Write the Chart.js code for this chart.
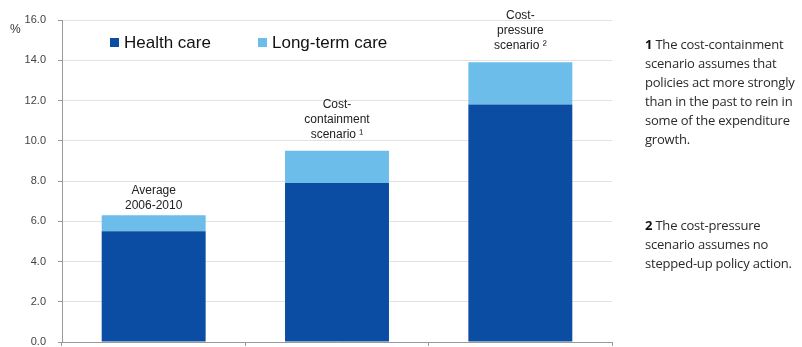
<!DOCTYPE html>
<html><head><meta charset="utf-8">
<script src="https://cdn.jsdelivr.net/npm/chart.js@4/dist/chart.umd.min.js"></script>
<style>
html,body{margin:0;padding:0;background:#fff;}
#wrap{position:relative;width:802px;height:347px;}
canvas{position:absolute;left:0;top:0;}
.note{position:absolute;left:645px;width:160px;font-family:"Open Sans","Noto Sans",sans-serif;font-size:13px;line-height:19px;color:#2a2a2a;letter-spacing:-0.2px;}
.note b{color:#111;}
</style></head>
<body><div id="wrap"><canvas id="c" width="802" height="347"></canvas>
<div class="note" id="n1" style="top:35px"></div>
<div class="note" id="n2" style="top:216px"></div>
</div>
<script>
const categories = ["Average 2006-2010", "Cost-containment scenario", "Cost-pressure scenario"];
const barLabels = [["Average", "2006-2010"], ["Cost-", "containment", "scenario \u00B9"], ["Cost-", "pressure", "scenario \u00B2"]];
const healthCare = [5.5, 7.9, 11.8];
const longTermCare = [0.8, 1.6, 2.1];
const seriesNames = ["Health care", "Long-term care"];
const notes = [
  ["1", "The cost-containment scenario assumes that policies act more strongly than in the past to rein in some of the expenditure growth."],
  ["2", "The cost-pressure scenario assumes no stepped-up policy action."]
];
document.getElementById('n1').innerHTML = '<b>' + notes[0][0] + '</b> ' + notes[0][1];
document.getElementById('n2').innerHTML = '<b>' + notes[1][0] + '</b> ' + notes[1][1];

const colors = ['#0B4DA2', '#6DBDEB'];
const labelGap = [6, 13, 13];

const overlay = {
  id: 'overlay',
  afterDatasetsDraw(chart) {
    const ctx = chart.ctx;
    const meta1 = chart.getDatasetMeta(1);
    ctx.save();
    ctx.font = '12px "Liberation Sans", Arial, sans-serif';
    ctx.fillStyle = '#222';
    ctx.textAlign = 'center';
    ctx.textBaseline = 'alphabetic';
    meta1.data.forEach((bar, i) => {
      const lines = barLabels[i];
      for (let k = 0; k < lines.length; k++) {
        const ly = bar.y - labelGap[i] - (lines.length - 1 - k) * 15;
        ctx.fillText(lines[k], bar.x, ly);
      }
    });
    ctx.font = '17px "Liberation Sans", Arial, sans-serif';
    ctx.textAlign = 'left';
    ctx.textBaseline = 'middle';
    const ly = 42;
    const xs = [110, 258];
    seriesNames.forEach((n, i) => {
      ctx.fillStyle = colors[i];
      ctx.fillRect(xs[i], ly - 4, 9, 9);
      ctx.fillStyle = '#111';
      ctx.fillText(n, xs[i] + 14, ly + 1);
    });
    ctx.font = '12px "Liberation Sans", Arial, sans-serif';
    ctx.fillStyle = '#333';
    ctx.fillText('%', 10, 30);
    ctx.restore();
  }
};

new Chart(document.getElementById('c'), {
  type: 'bar',
  data: {
    labels: categories,
    datasets: [
      { label: seriesNames[0], data: healthCare, backgroundColor: colors[0] },
      { label: seriesNames[1], data: longTermCare, backgroundColor: colors[1] }
    ]
  },
  options: {
    responsive: false,
    animation: false,
    devicePixelRatio: 1,
    layout: { padding: { top: 20, right: 190, left: 0, bottom: 0 } },
    datasets: { bar: { categoryPercentage: 1, barPercentage: 0.567, borderWidth: 0 } },
    plugins: { legend: { display: false }, tooltip: { enabled: false } },
    scales: {
      x: {
        stacked: true,
        afterFit(s) { s.height = 5; s.paddingLeft = 0; s.paddingRight = 0; },
        ticks: { display: false },
        grid: { display: true, drawOnChartArea: false, offset: true, tickLength: 4, color: '#999' },
        border: { color: '#999' }
      },
      y: {
        stacked: true,
        min: 0, max: 16,
        afterFit(s) { s.width = 62; s.paddingTop = 0; s.paddingBottom = 0; },
        ticks: { stepSize: 2, padding: 12, color: '#444', font: { family: '"Liberation Sans", Arial, sans-serif', size: 11 },
          callback: v => Number(v).toFixed(1) },
        grid: { color: '#e2e2e2', tickLength: 4, tickColor: '#999' },
        border: { color: '#999' }
      }
    }
  },
  plugins: [overlay]
});
</script>
</body></html>
